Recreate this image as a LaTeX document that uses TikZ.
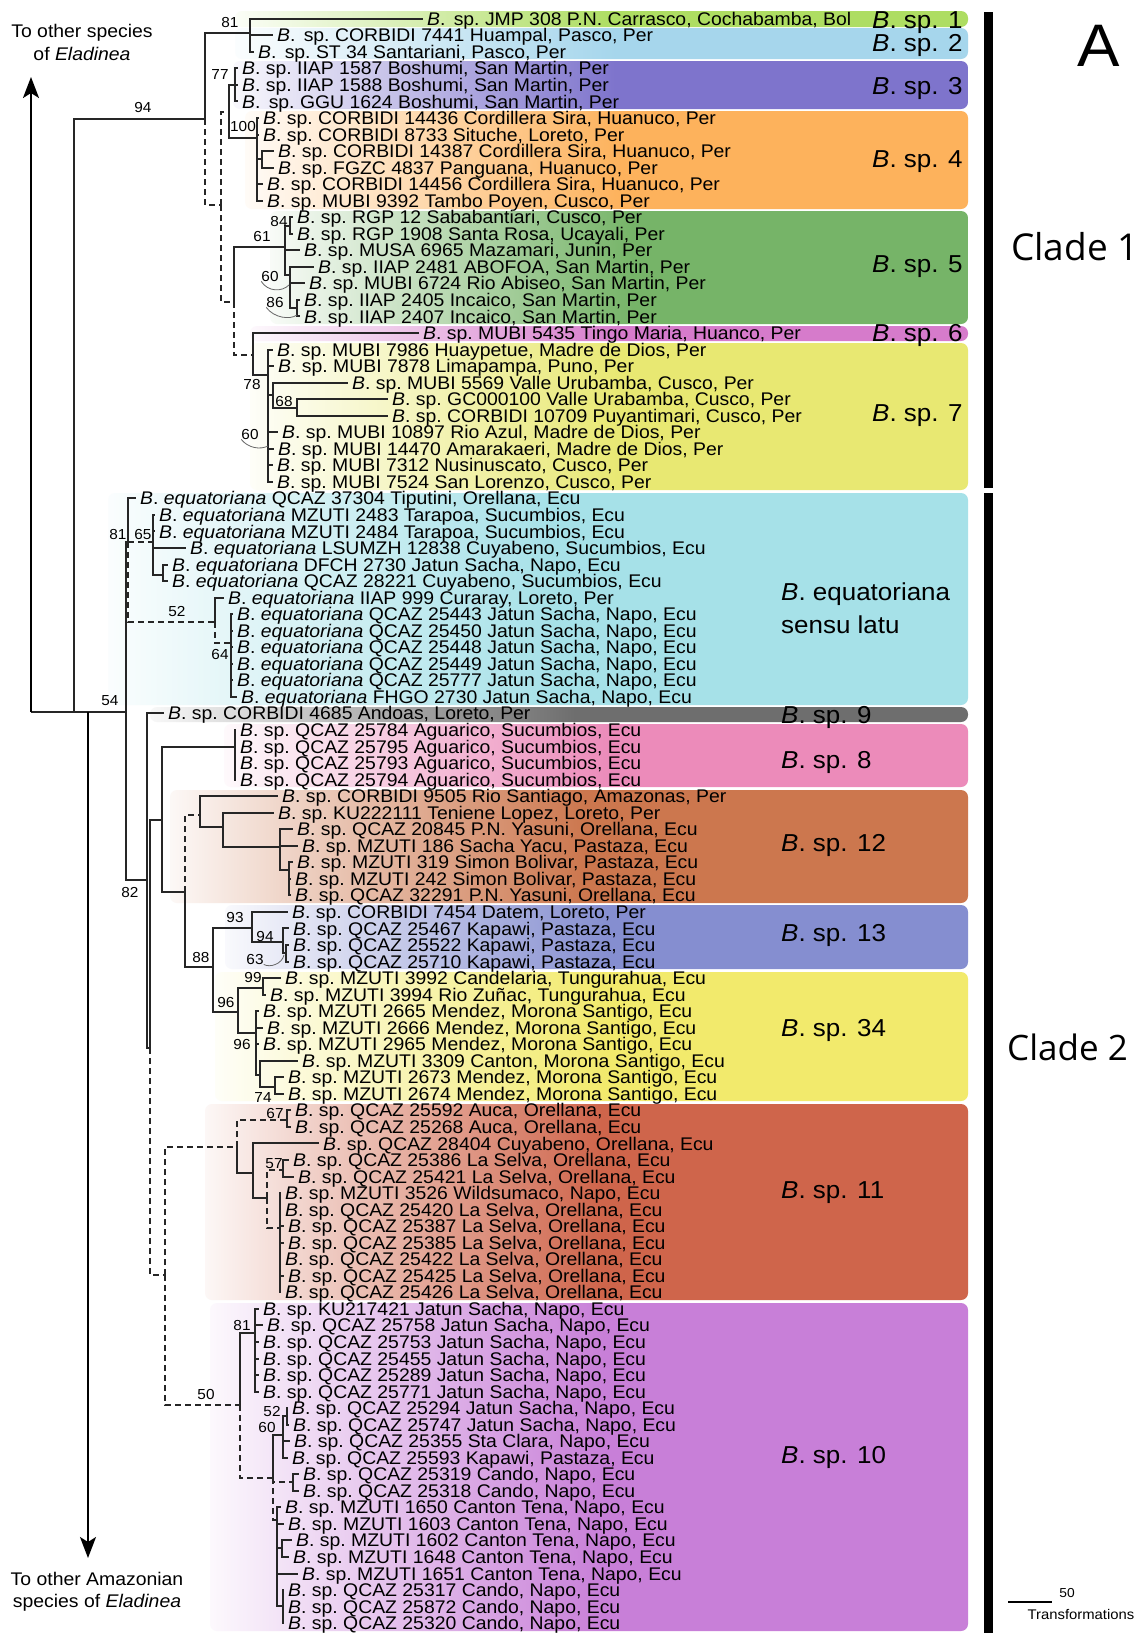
\documentclass[tikz,border=0pt]{standalone}
\usepackage{fontspec}
\setmainfont{Liberation Sans}[FakeStretch=1.06]
\newfontfamily\cladefont{Open Sans}
\usetikzlibrary{arrows.meta}
\colorlet{bandL}{white}\colorlet{bandM}{white}\colorlet{bandR}{white}
\pgfdeclarehorizontalshading[bandL,bandM,bandR]{bandsh}{100bp}{color(0bp)=(bandL); color(25bp)=(bandL); color(36bp)=(bandM); color(51bp)=(bandR); color(100bp)=(bandR)}
\definecolor{cSpA}{HTML}{AEDD62}
\definecolor{cSpB}{HTML}{A6D6EC}
\definecolor{cSpC}{HTML}{7E74CC}
\definecolor{cSpD}{HTML}{FDB25C}
\definecolor{cSpE}{HTML}{76B468}
\definecolor{cSpF}{HTML}{D67BCB}
\definecolor{cSpG}{HTML}{E8E872}
\definecolor{cEq}{HTML}{A6E1E8}
\definecolor{cSpNine}{HTML}{6E6E6E}
\definecolor{cSpEight}{HTML}{EC8BBA}
\definecolor{cSpTwelve}{HTML}{CC774E}
\definecolor{cSpThirteen}{HTML}{858ED0}
\definecolor{cSpTF}{HTML}{F2EA6C}
\definecolor{cSpEleven}{HTML}{CF654B}
\definecolor{cSpTen}{HTML}{C87FD8}
\definecolor{treec}{HTML}{262626}
\tikzset{
  declare function={ty(\i)=18.75+(\i-1)*16.54;},
  br/.style={line width=2pt, draw=treec},
  dbr/.style={br, dash pattern=on 6pt off 4pt},
  tip/.style={anchor=west, inner sep=0pt, font=\fontsize{18.3}{18}\selectfont, text height=13.1pt, text depth=0pt},
  bs/.style={inner sep=0pt, font=\fontsize{14.5}{15}\selectfont, text height=10.4pt, text depth=0pt},
  splab/.style={anchor=west, inner sep=0pt, font=\fontsize{24.5}{26}\selectfont, text height=17.5pt, text depth=0pt},
  curv/.style={line width=0.8pt, draw=black!60},
  arr/.style={line width=2pt, draw=black, -{Stealth[length=21pt,width=16pt,inset=5pt]}},
}
\newcommand\Bs{\textit{B}. sp.}
\newcommand\Bss{\textit{B}.\hspace{0.45em}sp.}
\newcommand\Be{\textit{B}. \textit{equatoriana}}
\newcommand\tipnode[3]{\node[tip] (t#1) at (#2,{ty(#1)}) {#3};}
\newcommand\tb[2]{\draw[br] (#1) |- ([xshift=-4pt]t#2.west);}
\newcommand\tbs[2]{\foreach \k in {#2}{\tb{#1}{\k}}}
\newcommand\band[4]{\colorlet{bandL}{#1!5!white}\colorlet{bandM}{#1!45!white}\colorlet{bandR}{#1}\shade[shading=bandsh, rounded corners=7pt] (#2,#3) rectangle (968,#4);}
\begin{document}
\begin{tikzpicture}[x=1pt,y=-1pt]
\useasboundingbox (0,0) rectangle (1145,1633);
\fill[white] (0,0) rectangle (1145,1633);
% ---------- bands
\band{cSpA}{235}{11}{27}
\band{cSpB}{235}{28}{59}
\band{cSpC}{233}{61}{109}
\band{cSpD}{245}{111}{209}
\band{cSpE}{270}{211}{324}
\band{cSpF}{250}{326}{341}
\band{cSpG}{250}{343}{490}
\band{cEq}{108}{493}{705}
\band{cSpNine}{150}{707}{722}
\band{cSpEight}{224}{724}{787}
\band{cSpTwelve}{170}{790}{903}
\band{cSpThirteen}{225}{905}{969}
\band{cSpTF}{215}{972}{1101}
\band{cSpEleven}{205}{1104}{1300}
\band{cSpTen}{210}{1303}{1631}
% ---------- band labels
\node[splab] (L1) at (872,20) {\textit{B}. sp. 1};
\node[splab] (L2) at (872,43) {\textit{B}. sp. 2};
\node[splab] (L3) at (872,86) {\textit{B}. sp. 3};
\node[splab] (L4) at (872,159) {\textit{B}. sp. 4};
\node[splab] (L5) at (872,264) {\textit{B}. sp. 5};
\node[splab] (L6) at (872,333) {\textit{B}. sp. 6};
\node[splab] (L7) at (872,413) {\textit{B}. sp. 7};
\node[splab] (Leq) at (781,592) {\textit{B}. equatoriana};
\node[splab] (Lsl) at (781,625) {sensu latu};
\node[splab] (L9) at (781,715) {\textit{B}. sp. 9};
\node[splab] (L8) at (781,760) {\textit{B}. sp. 8};
\node[splab] (L12) at (781,843) {\textit{B}. sp. 12};
\node[splab] (L13) at (781,933) {\textit{B}. sp. 13};
\node[splab] (L34) at (781,1028) {\textit{B}. sp. 34};
\node[splab] (L11) at (781,1190) {\textit{B}. sp. 11};
\node[splab] (L10) at (781,1455) {\textit{B}. sp. 10};
% ---------- clade bars and labels
\fill (984,12) rectangle (993,488);
\fill (984,493) rectangle (993,1633);
\node[anchor=west, inner sep=0pt, font=\cladefont\fontsize{37}{40}\selectfont] (cl1) at (1011,247) {Clade 1};
\node[anchor=west, inner sep=0pt, font=\cladefont\fontsize{35}{40}\selectfont] (cl2) at (1007,1047) {Clade 2};
\node[inner sep=0pt, font=\fontsize{60}{60}\selectfont, text height=43pt, text depth=0pt] (lblA) at (1099,45) {A};
% scale bar
\coordinate (sb1) at (1008,1602);
\coordinate (sb2) at (1052,1602);
\draw[line width=1.3pt] (sb1) -- (sb2);
\node[bs, font=\fontsize{13}{13}\selectfont] (s50) at (1067,1592) {50};
\node[bs, font=\fontsize{14}{14}\selectfont] (str) at (1081,1614) {Transformations};
% outgroup texts
\node[align=center, inner sep=0pt, font=\fontsize{18.3}{23}\selectfont] (otop) at (82,42) {To other species\\of \textit{Eladinea}};
\node[align=center, inner sep=0pt, font=\fontsize{18.3}{22}\selectfont] (obot) at (97,1592) {To other Amazonian\\species of \textit{Eladinea}};
% ---------- tips
\tipnode{1}{427}{\Bss\ JMP 308 P.N. Carrasco, Cochabamba, Bol}
\tipnode{2}{277}{\Bss\ CORBIDI 7441 Huampal, Pasco, Per}
\tipnode{3}{258}{\Bss\ ST 34 Santariani, Pasco, Per}
\tipnode{4}{242}{\Bs\ IIAP 1587 Boshumi, San Martin, Per}
\tipnode{5}{242}{\Bs\ IIAP 1588 Boshumi, San Martin, Per}
\tipnode{6}{242}{\Bss\ GGU 1624 Boshumi, San Martin, Per}
\tipnode{7}{263}{\Bs\ CORBIDI 14436 Cordillera Sira, Huanuco, Per}
\tipnode{8}{263}{\Bs\ CORBIDI 8733 Situche, Loreto, Per}
\tipnode{9}{278}{\Bs\ CORBIDI 14387 Cordillera Sira, Huanuco, Per}
\tipnode{10}{278}{\Bs\ FGZC 4837 Panguana, Huanuco, Per}
\tipnode{11}{267}{\Bs\ CORBIDI 14456 Cordillera Sira, Huanuco, Per}
\tipnode{12}{267}{\Bs\ MUBI 9392 Tambo Poyen, Cusco, Per}
\tipnode{13}{297}{\Bs\ RGP 12 Sababantiari, Cusco, Per}
\tipnode{14}{297}{\Bs\ RGP 1908 Santa Rosa, Ucayali, Per}
\tipnode{15}{304}{\Bs\ MUSA 6965 Mazamari, Junin, Per}
\tipnode{16}{318}{\Bs\ IIAP 2481 ABOFOA, San Martin, Per}
\tipnode{17}{309}{\Bs\ MUBI 6724 Rio Abiseo, San Martin, Per}
\tipnode{18}{304}{\Bs\ IIAP 2405 Incaico, San Martin, Per}
\tipnode{19}{304}{\Bs\ IIAP 2407 Incaico, San Martin, Per}
\tipnode{20}{423}{\Bs\ MUBI 5435 Tingo Maria, Huanco, Per}
\tipnode{21}{277}{\Bs\ MUBI 7986 Huaypetue, Madre de Dios, Per}
\tipnode{22}{278}{\Bs\ MUBI 7878 Limapampa, Puno, Per}
\tipnode{23}{352}{\Bs\ MUBI 5569 Valle Urubamba, Cusco, Per}
\tipnode{24}{392}{\Bs\ GC000100 Valle Urabamba, Cusco, Per}
\tipnode{25}{392}{\Bs\ CORBIDI 10709 Puyantimari, Cusco, Per}
\tipnode{26}{282}{\Bs\ MUBI 10897 Rio Azul, Madre de Dios, Per}
\tipnode{27}{278}{\Bs\ MUBI 14470 Amarakaeri, Madre de Dios, Per}
\tipnode{28}{277}{\Bs\ MUBI 7312 Nusinuscato, Cusco, Per}
\tipnode{29}{277}{\Bs\ MUBI 7524 San Lorenzo, Cusco, Per}
\tipnode{30}{140}{\Be\ QCAZ 37304 Tiputini, Orellana, Ecu}
\tipnode{31}{159}{\Be\ MZUTI 2483 Tarapoa, Sucumbios, Ecu}
\tipnode{32}{159}{\Be\ MZUTI 2484 Tarapoa, Sucumbios, Ecu}
\tipnode{33}{190}{\Be\ LSUMZH 12838 Cuyabeno, Sucumbios, Ecu}
\tipnode{34}{172}{\Be\ DFCH 2730 Jatun Sacha, Napo, Ecu}
\tipnode{35}{172}{\Be\ QCAZ 28221 Cuyabeno, Sucumbios, Ecu}
\tipnode{36}{228}{\Be\ IIAP 999 Curaray, Loreto, Per}
\tipnode{37}{237}{\Be\ QCAZ 25443 Jatun Sacha, Napo, Ecu}
\tipnode{38}{237}{\Be\ QCAZ 25450 Jatun Sacha, Napo, Ecu}
\tipnode{39}{237}{\Be\ QCAZ 25448 Jatun Sacha, Napo, Ecu}
\tipnode{40}{237}{\Be\ QCAZ 25449 Jatun Sacha, Napo, Ecu}
\tipnode{41}{237}{\Be\ QCAZ 25777 Jatun Sacha, Napo, Ecu}
\tipnode{42}{241}{\Be\ FHGO 2730 Jatun Sacha, Napo, Ecu}
\tipnode{43}{168}{\Bs\ CORBIDI 4685 Andoas, Loreto, Per}
\tipnode{44}{240}{\Bs\ QCAZ 25784 Aguarico, Sucumbios, Ecu}
\tipnode{45}{240}{\Bs\ QCAZ 25795 Aguarico, Sucumbios, Ecu}
\tipnode{46}{240}{\Bs\ QCAZ 25793 Aguarico, Sucumbios, Ecu}
\tipnode{47}{240}{\Bs\ QCAZ 25794 Aguarico, Sucumbios, Ecu}
\tipnode{48}{282}{\Bs\ CORBIDI 9505 Rio Santiago, Amazonas, Per}
\tipnode{49}{278}{\Bs\ KU222111 Teniene Lopez, Loreto, Per}
\tipnode{50}{297}{\Bs\ QCAZ 20845 P.N. Yasuni, Orellana, Ecu}
\tipnode{51}{302}{\Bs\ MZUTI 186 Sacha Yacu, Pastaza, Ecu}
\tipnode{52}{297}{\Bs\ MZUTI 319 Simon Bolivar, Pastaza, Ecu}
\tipnode{53}{295}{\Bs\ MZUTI 242 Simon Bolivar, Pastaza, Ecu}
\tipnode{54}{295}{\Bs\ QCAZ 32291 P.N. Yasuni, Orellana, Ecu}
\tipnode{55}{292}{\Bs\ CORBIDI 7454 Datem, Loreto, Per}
\tipnode{56}{293}{\Bs\ QCAZ 25467 Kapawi, Pastaza, Ecu}
\tipnode{57}{293}{\Bs\ QCAZ 25522 Kapawi, Pastaza, Ecu}
\tipnode{58}{293}{\Bs\ QCAZ 25710 Kapawi, Pastaza, Ecu}
\tipnode{59}{285}{\Bs\ MZUTI 3992 Candelaria, Tungurahua, Ecu}
\tipnode{60}{270}{\Bs\ MZUTI 3994 Rio Zuñac, Tungurahua, Ecu}
\tipnode{61}{263}{\Bs\ MZUTI 2665 Mendez, Morona Santigo, Ecu}
\tipnode{62}{267}{\Bs\ MZUTI 2666 Mendez, Morona Santigo, Ecu}
\tipnode{63}{263}{\Bs\ MZUTI 2965 Mendez, Morona Santigo, Ecu}
\tipnode{64}{302}{\Bs\ MZUTI 3309 Canton, Morona Santigo, Ecu}
\tipnode{65}{288}{\Bs\ MZUTI 2673 Mendez, Morona Santigo, Ecu}
\tipnode{66}{288}{\Bs\ MZUTI 2674 Mendez, Morona Santigo, Ecu}
\tipnode{67}{295}{\Bs\ QCAZ 25592 Auca, Orellana, Ecu}
\tipnode{68}{295}{\Bs\ QCAZ 25268 Auca, Orellana, Ecu}
\tipnode{69}{323}{\Bs\ QCAZ 28404 Cuyabeno, Orellana, Ecu}
\tipnode{70}{293}{\Bs\ QCAZ 25386 La Selva, Orellana, Ecu}
\tipnode{71}{298}{\Bs\ QCAZ 25421 La Selva, Orellana, Ecu}
\tipnode{72}{285}{\Bs\ MZUTI 3526 Wildsumaco, Napo, Ecu}
\tipnode{73}{285}{\Bs\ QCAZ 25420 La Selva, Orellana, Ecu}
\tipnode{74}{288}{\Bs\ QCAZ 25387 La Selva, Orellana, Ecu}
\tipnode{75}{288}{\Bs\ QCAZ 25385 La Selva, Orellana, Ecu}
\tipnode{76}{285}{\Bs\ QCAZ 25422 La Selva, Orellana, Ecu}
\tipnode{77}{288}{\Bs\ QCAZ 25425 La Selva, Orellana, Ecu}
\tipnode{78}{285}{\Bs\ QCAZ 25426 La Selva, Orellana, Ecu}
\tipnode{79}{263}{\Bs\ KU217421 Jatun Sacha, Napo, Ecu}
\tipnode{80}{267}{\Bs\ QCAZ 25758 Jatun Sacha, Napo, Ecu}
\tipnode{81}{263}{\Bs\ QCAZ 25753 Jatun Sacha, Napo, Ecu}
\tipnode{82}{263}{\Bs\ QCAZ 25455 Jatun Sacha, Napo, Ecu}
\tipnode{83}{263}{\Bs\ QCAZ 25289 Jatun Sacha, Napo, Ecu}
\tipnode{84}{263}{\Bs\ QCAZ 25771 Jatun Sacha, Napo, Ecu}
\tipnode{85}{292}{\Bs\ QCAZ 25294 Jatun Sacha, Napo, Ecu}
\tipnode{86}{293}{\Bs\ QCAZ 25747 Jatun Sacha, Napo, Ecu}
\tipnode{87}{294}{\Bs\ QCAZ 25355 Sta Clara, Napo, Ecu}
\tipnode{88}{292}{\Bs\ QCAZ 25593 Kapawi, Pastaza, Ecu}
\tipnode{89}{303}{\Bs\ QCAZ 25319 Cando, Napo, Ecu}
\tipnode{90}{303}{\Bs\ QCAZ 25318 Cando, Napo, Ecu}
\tipnode{91}{285}{\Bs\ MZUTI 1650 Canton Tena, Napo, Ecu}
\tipnode{92}{288}{\Bs\ MZUTI 1603 Canton Tena, Napo, Ecu}
\tipnode{93}{296}{\Bs\ MZUTI 1602 Canton Tena, Napo, Ecu}
\tipnode{94}{293}{\Bs\ MZUTI 1648 Canton Tena, Napo, Ecu}
\tipnode{95}{302}{\Bs\ MZUTI 1651 Canton Tena, Napo, Ecu}
\tipnode{96}{288}{\Bs\ QCAZ 25317 Cando, Napo, Ecu}
\tipnode{97}{288}{\Bs\ QCAZ 25872 Cando, Napo, Ecu}
\tipnode{98}{288}{\Bs\ QCAZ 25320 Cando, Napo, Ecu}
% ---------- root
\coordinate (r0) at (31,712);
\coordinate (up) at (31,77);
\coordinate (n74) at (74,712);
\coordinate (n88) at (88,712);
\coordinate (down) at (88,1558);
\coordinate (n54) at (126,712);
\draw[br] (r0) -- (n54);
\draw[arr] (r0) -- (up);
\draw[arr] (n88) -- (down);
% ---------- clade 1
\coordinate (c1) at (205,119);
\coordinate (n81) at (250,33);
\coordinate (d1) at (221,205);
\coordinate (n77) at (229,112);
\coordinate (s3) at (235,85);
\coordinate (n100) at (257,138);
\coordinate (n910) at (262,159);
\coordinate (d2) at (234,302);
\coordinate (n61) at (285,247);
\coordinate (n84) at (290,226);
\coordinate (n60) at (290,275);
\coordinate (n86) at (297,308);
\coordinate (n67) at (253,355);
\coordinate (n78) at (268,375);
\coordinate (nA) at (273,395);
\coordinate (n68) at (297,408);
\draw[br] (n74) |- (c1);
\draw[br] (c1) |- (n81);
\draw[dbr] (c1) |- (d1);
\tbs{n81}{1,2,3}
\draw[dbr] (d1) |- (n77);
\draw[dbr] (d1) |- (d2);
\draw[br] (n77) |- (s3);
\draw[br] (n77) |- (n100);
\tbs{s3}{4,5,6}
\tbs{n100}{7,8,11,12}
\draw[br] (n100) |- (n910);
\tbs{n910}{9,10}
\draw[br] (d2) |- (n61);
\draw[dbr] (d2) |- (n67);
\draw[br] (n61) |- (n84);
\draw[br] (n61) |- (n60);
\tb{n61}{15}
\tbs{n84}{13,14}
\tbs{n60}{16,17}
\draw[br] (n60) |- (n86);
\tbs{n86}{18,19}
\tb{n67}{20}
\draw[br] (n67) |- (n78);
\tbs{n78}{21,22,26,27,28,29}
\draw[br] (n78) |- (nA);
\tb{nA}{23}
\draw[br] (nA) |- (n68);
\tbs{n68}{24,25}
% ---------- clade 2
\coordinate (n81e) at (128,542);
\coordinate (n65) at (153,542);
\coordinate (n3435) at (163,575);
\coordinate (n52) at (215,622);
\coordinate (n64) at (231,643);
\coordinate (n82) at (147,880);
\coordinate (n150) at (150,1048);
\coordinate (n162) at (162,820);
\coordinate (ns8) at (235,747);
\coordinate (nd12) at (185,892);
\coordinate (ns12) at (200,815);
\coordinate (nB) at (223,827);
\coordinate (nC) at (280,847);
\coordinate (nD) at (289,870);
\coordinate (n88b) at (213,967);
\coordinate (n93) at (252,928);
\coordinate (n94) at (283,942);
\coordinate (n63) at (286,953);
\coordinate (n96) at (238,1012);
\coordinate (n99) at (263,988);
\coordinate (n96b) at (256,1033);
\coordinate (n74t) at (260,1075);
\coordinate (n74b) at (275,1087);
\coordinate (n165) at (165,1275);
\coordinate (ns11) at (237,1147);
\coordinate (n67b) at (287,1120);
\coordinate (nb) at (253,1173);
\coordinate (nc) at (267,1198);
\coordinate (n57) at (283,1170);
\coordinate (nd) at (280,1228);
\coordinate (n50) at (240,1405);
\coordinate (n81t) at (255,1333);
\coordinate (ne) at (273,1478);
\coordinate (n60t) at (283,1435);
\coordinate (n52t) at (287,1416);
\coordinate (nf) at (293,1482);
\coordinate (ng) at (277,1520);
\coordinate (nh) at (282,1548);
\coordinate (ni) at (283,1606);
\draw[br] (n54) |- (n81e);
\draw[br] (n54) |- (n82);
\tb{n81e}{30}
\draw[dbr] (n81e) |- (n65);
\draw[dbr] (n81e) |- (n52);
\tbs{n65}{31,32,33}
\draw[br] (n65) |- (n3435);
\tbs{n3435}{34,35}
\tb{n52}{36}
\draw[dbr] (n52) |- (n64);
\tbs{n64}{37,38,39,40,41,42}
\tb{n82}{43}
\draw[br] (n82) |- (n150);
\draw[br] (n150) |- (n162);
\draw[dbr] (n150) |- (n165);
\draw[br] (n162) |- (ns8);
\draw[br] (n162) |- (nd12);
\tbs{ns8}{44,45,46,47}
\draw[dbr] (nd12) |- (ns12);
\draw[br] (nd12) |- (n88b);
\tb{ns12}{48}
\draw[br] (ns12) |- (nB);
\tb{nB}{49}
\draw[br] (nB) |- (nC);
\tbs{nC}{50,51}
\draw[br] (nC) |- (nD);
\tbs{nD}{52,53,54}
\draw[br] (n88b) |- (n93);
\draw[br] (n88b) |- (n96);
\tb{n93}{55}
\draw[br] (n93) |- (n94);
\tb{n94}{56}
\draw[br] (n94) |- (n63);
\tbs{n63}{57,58}
\draw[br] (n96) |- (n99);
\draw[br] (n96) |- (n96b);
\tbs{n99}{59,60}
\tbs{n96b}{61,62,63}
\draw[br] (n96b) |- (n74t);
\tb{n74t}{64}
\draw[br] (n74t) |- (n74b);
\tbs{n74b}{65,66}
\draw[dbr] (n165) |- (ns11);
\draw[dbr] (n165) |- (n50);
\draw[dbr] (ns11) |- (n67b);
\draw[br] (ns11) |- (nb);
\tbs{n67b}{67,68}
\tb{nb}{69}
\draw[br] (nb) |- (nc);
\draw[dbr] (nc) |- (n57);
\draw[dbr] (nc) |- (nd);
\tbs{n57}{70,71}
\tbs{nd}{72,73,74,75,76,77,78}
\draw[br] (n50) |- (n81t);
\draw[dbr] (n50) |- (ne);
\tbs{n81t}{79,80,81,82,83,84}
\draw[br] (ne) |- (n60t);
\draw[dbr] (ne) |- (nf);
\draw[dbr] (ne) |- (ng);
\draw[br] (n60t) |- (n52t);
\tbs{n60t}{87,88}
\tbs{n52t}{85,86}
\tbs{nf}{89,90}
\tbs{ng}{91,92,95}
\draw[br] (ng) |- (nh);
\draw[br] (ng) |- (ni);
\tbs{nh}{93,94}
\tbs{ni}{96,97,98}
% ---------- support values
\node[bs] (b94) at (143,107) {94};
\node[bs] (b81a) at (230,22) {81};
\node[bs] (b77) at (220,74) {77};
\node[bs] (b100) at (243,126) {100};
\node[bs] (b84) at (279,221) {84};
\node[bs] (b61) at (262,236) {61};
\node[bs] (b60a) at (270,276) {60};
\node[bs] (b86) at (275,302) {86};
\node[bs] (b78) at (252,384) {78};
\node[bs] (b68) at (284,401) {68};
\node[bs] (b60b) at (250,434) {60};
\node[bs] (b81b) at (118,534) {81};
\node[bs] (b65) at (143,534) {65};
\node[bs] (b52a) at (177,611) {52};
\node[bs] (b64) at (220,654) {64};
\node[bs] (b54) at (110,700) {54};
\node[bs] (b82) at (130,892) {82};
\node[bs] (b93) at (235,917) {93};
\node[bs] (b94b) at (265,936) {94};
\node[bs] (b63) at (255,959) {63};
\node[bs] (b88) at (201,957) {88};
\node[bs] (b99) at (253,977) {99};
\node[bs] (b96a) at (226,1002) {96};
\node[bs] (b96b) at (242,1044) {96};
\node[bs] (b74) at (263,1097) {74};
\node[bs] (b67) at (275,1113) {67};
\node[bs] (b57) at (274,1163) {57};
\node[bs] (b50) at (206,1394) {50};
\node[bs] (b81c) at (242,1325) {81};
\node[bs] (b52b) at (272,1411) {52};
\node[bs] (b60c) at (267,1427) {60};
% pointer curves
\coordinate (p60a) at (289,285);
\coordinate (p86) at (297,315);
\coordinate (p60b) at (268,446);
\coordinate (p63) at (284,955);
\draw[curv] (b60a.south west) .. controls (268,292) and (282,292) .. (p60a);
\draw[curv] (b86.south west) .. controls (274,318) and (290,320) .. (p86);
\draw[curv] (b60b.south west) .. controls (248,448) and (260,450) .. (p60b);
\draw[curv] (b63.south east) .. controls (270,968) and (282,964) .. (p63);
\end{tikzpicture}
\end{document}
